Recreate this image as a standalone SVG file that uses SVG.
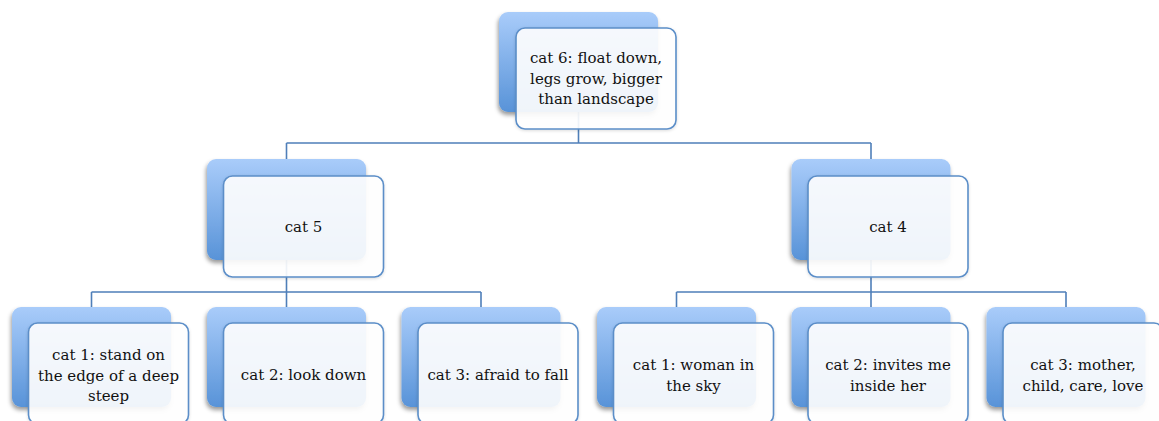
<svg xmlns="http://www.w3.org/2000/svg" width="1159" height="421" viewBox="0 0 1159 421">
  <defs>
    <linearGradient id="backFill" x1="0" y1="0" x2="0" y2="1">
      <stop offset="0" stop-color="#a9ccfa"/>
      <stop offset="1" stop-color="#5893d8"/>
    </linearGradient>
    <filter id="shadow" x="-10%" y="-10%" width="130%" height="130%">
      <feDropShadow dx="-1" dy="3" stdDeviation="2.2" flood-color="#000" flood-opacity="0.4"/>
    </filter>
    <filter id="soft" x="-10%" y="-10%" width="130%" height="130%">
      <feDropShadow dx="0" dy="1" stdDeviation="1.5" flood-color="#000" flood-opacity="0.15"/>
    </filter>
  </defs>
  <style>
    .back { fill: url(#backFill); filter: url(#shadow); }
    .front { fill: #ffffff; fill-opacity: 0.9; stroke: #5b8ec8; stroke-width: 1.6; filter: url(#soft); }
    .conn { fill: none; stroke: #4f7fb9; stroke-width: 1.6; }
    .label { font-family: "DejaVu Serif", "Liberation Serif", serif; font-size: 15px; fill: #111; text-anchor: middle; }
  </style>

  <rect width="1159" height="421" fill="#ffffff"/>

  <g id="connectors">
    <path class="conn" d="M578.5,112 V143 M286.5,143 H871 M286.5,143 V159 M871,143 V159"/>
    <path class="conn" d="M286.5,260 V292 M91.5,292 H481 M91.5,292 V307 M286.5,292 V307 M481,292 V307"/>
    <path class="conn" d="M871,260 V292 M676.5,292 H1066 M676.5,292 V307 M871,292 V307 M1066,292 V307"/>
  </g>

  <g id="cat6">
    <rect class="back" x="499" y="12" width="159" height="100" rx="9"/>
    <rect class="front" x="516" y="28" width="160" height="101" rx="9"/>
    <text class="label"><tspan x="596" y="63">cat 6: float down,</tspan><tspan x="596" y="83.5">legs grow, bigger</tspan><tspan x="596" y="104">than landscape</tspan></text>
  </g>

  <g id="cat5">
    <rect class="back" x="207" y="159" width="159" height="101" rx="9"/>
    <rect class="front" x="223.5" y="176" width="160" height="101" rx="9"/>
    <text class="label" x="303.5" y="232">cat 5</text>
  </g>

  <g id="cat4">
    <rect class="back" x="791.5" y="159" width="159" height="101" rx="9"/>
    <rect class="front" x="808" y="176" width="160" height="101" rx="9"/>
    <text class="label" x="888" y="232">cat 4</text>
  </g>

  <g id="cat5-1">
    <rect class="back" x="12" y="307" width="159" height="100" rx="9"/>
    <rect class="front" x="28.5" y="323" width="160" height="101" rx="9"/>
    <text class="label"><tspan x="108.5" y="360">cat 1: stand on</tspan><tspan x="108.5" y="380.5">the edge of a deep</tspan><tspan x="108.5" y="401">steep</tspan></text>
  </g>

  <g id="cat5-2">
    <rect class="back" x="207" y="307" width="159" height="100" rx="9"/>
    <rect class="front" x="223.5" y="323" width="160" height="101" rx="9"/>
    <text class="label" x="303.5" y="380">cat 2: look down</text>
  </g>

  <g id="cat5-3">
    <rect class="back" x="401.5" y="307" width="159" height="100" rx="9"/>
    <rect class="front" x="418" y="323" width="160" height="101" rx="9"/>
    <text class="label" x="498" y="380">cat 3: afraid to fall</text>
  </g>

  <g id="cat4-1">
    <rect class="back" x="597" y="307" width="159" height="100" rx="9"/>
    <rect class="front" x="613.5" y="323" width="160" height="101" rx="9"/>
    <text class="label"><tspan x="693.5" y="370">cat 1: woman in</tspan><tspan x="693.5" y="390.5">the sky</tspan></text>
  </g>

  <g id="cat4-2">
    <rect class="back" x="791.5" y="307" width="159" height="100" rx="9"/>
    <rect class="front" x="808" y="323" width="160" height="101" rx="9"/>
    <text class="label"><tspan x="888" y="370">cat 2: invites me</tspan><tspan x="888" y="390.5">inside her</tspan></text>
  </g>

  <g id="cat4-3">
    <rect class="back" x="986.5" y="307" width="159" height="100" rx="9"/>
    <rect class="front" x="1003" y="323" width="160" height="101" rx="9"/>
    <text class="label"><tspan x="1083" y="370">cat 3: mother,</tspan><tspan x="1083" y="390.5">child, care, love</tspan></text>
  </g>
</svg>
